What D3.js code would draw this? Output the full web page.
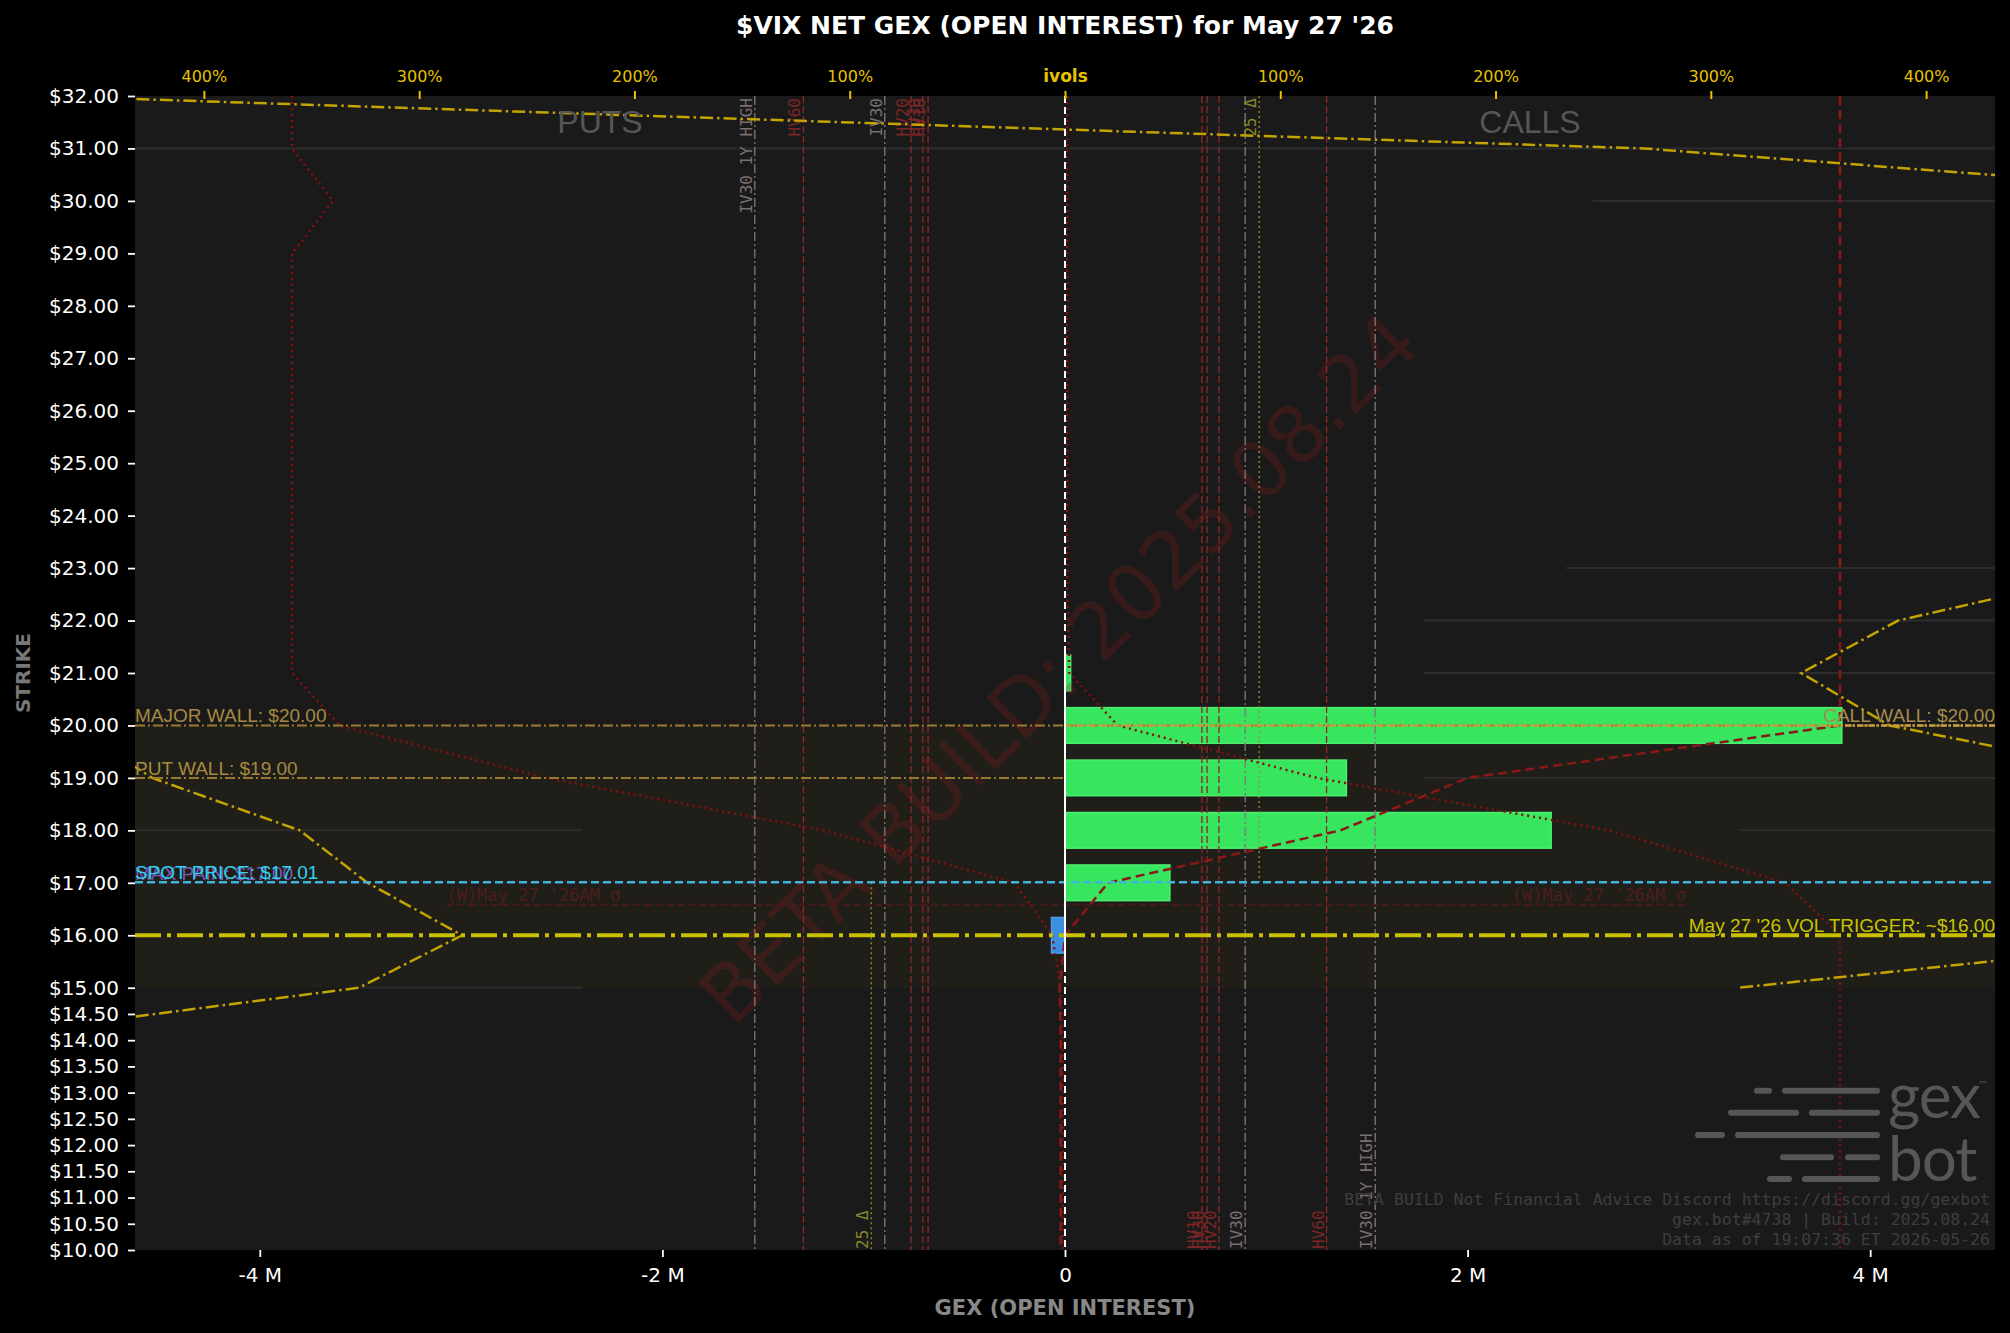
<!DOCTYPE html>
<html><head><meta charset="utf-8">
<script src="https://cdn.jsdelivr.net/npm/d3@7"></script>
<style>
html,body{margin:0;padding:0;background:#000;}
svg{display:block;}
</style></head><body>
<svg id="chart" width="2010" height="1333"></svg>
<script>
// ---------------- DATA ----------------
const titleText = "$VIX NET GEX (OPEN INTEREST) for May 27 '26";
const strikeTicks = [32,31,30,29,28,27,26,25,24,23,22,21,20,19,18,17,16,15,14.5,14,13.5,13,12.5,12,11.5,11,10.5,10];
const gexTicks = [-4e6,-2e6,0,2e6,4e6];
const ivolTicks = [-400,-300,-200,-100,0,100,200,300,400];

// net GEX bars by strike
const barStrikes = [21,20,19,18,17,16];
const barGex = [0.028e6, 3.859e6, 1.398e6, 2.415e6, 0.521e6, -0.067e6];

// volatility reference levels (ivol %), mirrored on both sides
const volNames  = ["HV10","HV30","HV20","IV30","HV60","IV30 1Y HIGH"];
const volValues = [63.6, 66.0, 71.5, 83.7, 121.5, 144.1];
const deltaPut = -90.0, deltaCall = 90.2;

// IV curves by strike (ivol %)
const curveStrikes  = [32,31,30,29,28,27,26,25,24,23,22,21,20,19,18,17,16,15,14,13,12,11,10];
const putIvDotted   = [359,359,340,359,359,359,359,359,359,359,359,359,337,241,112,23.5,6,2,1,1,1,1,1];
const callIvDotted  = [1,1,1,1,1,1,1,1,1,1,1.5,2,24.5,117,253,334.5,360,360,360,360,360,360,360];
const callIvDashed  = [360,360,360,360,360,360,360,360,360,360,360,360,360,187,128,20,0,-2.5,-2,-2,-2,-2,-2];

// skew curves (signed ivol %, strike)
const topSkewIv = [-475, 269, 590];
const topSkewStrike = [32, 31, 30];
const putSkewStrike = [20,19,18,17,16,15,14];
const putSkewIv = [462,424,355.5,324,280,328,517];
const callSkewStrike = [23,22,21,20,19,18,17,16,15];
const callSkewIv = [494,387,342,383,505,600,600,546,313];

// faint reference segments (strike, from/to in GEX millions)
const refStrikes = [31,30,23,22,21,19,18,18,15];
const refFrom = [-4.62,2.62,2.49,1.78,1.78,1.78,-4.62,3.35,-3.50];
const refTo   = [4.62,4.62,4.62,4.62,4.62,4.62,-2.40,4.62,-2.40];

// levels
const majorWall = 20.00, putWall = 19.00, callWall = 20.00;
const spotPrice = 17.01, maxPain = 17.00, volTrigger = 16.00;
const sigmaStrike = 16.58, sigmaFrom = -3.073e6, sigmaTo = 3.084e6;
const bandLow = 15, bandHigh = 20;

const footerLines = ["BETA BUILD Not Financial Advice Discord https://discord.gg/gexbot",
                     "gex.bot#4738 | Build: 2025.08.24",
                     "Data as of 19:07:36 ET 2026-05-26"];

// ---------------- CHART ----------------
const W=2010,H=1333;
const M={l:135,r:15,t:96,b:83};
const svg=d3.select('#chart');
const x=d3.scaleLinear().domain([-4.62e6,4.62e6]).range([M.l,W-M.r]);
const xi=d3.scaleLinear().domain([-432,432]).range([M.l,W-M.r]);
const y=d3.scaleLinear().domain([10,32]).range([H-M.b,M.t]);

svg.append('rect').attr('width',W).attr('height',H).attr('fill','#000');
svg.append('defs').append('clipPath').attr('id','clip').append('rect')
  .attr('x',M.l).attr('y',M.t).attr('width',W-M.l-M.r).attr('height',H-M.t-M.b);
svg.append('rect').attr('x',M.l).attr('y',M.t).attr('width',W-M.l-M.r).attr('height',H-M.t-M.b).attr('fill','#1a1a1a');

const g=svg.append('g').attr('clip-path','url(#clip)');

// band
g.append('rect').attr('x',M.l).attr('width',W-M.l-M.r)
  .attr('y',y(bandHigh)).attr('height',y(bandLow)-y(bandHigh)).attr('fill','#201e18');

// faint reference segments
refStrikes.forEach((s,i)=>{
  g.append('line').attr('x1',x(refFrom[i]*1e6)).attr('x2',x(refTo[i]*1e6))
   .attr('y1',y(s)).attr('y2',y(s)).attr('stroke','#2c2c2c').attr('stroke-width',2);
});

// bars
const bh = y(0)-y(0.68);
barStrikes.forEach((s,i)=>{
  const v=barGex[i];
  g.append('rect').attr('x',Math.min(x(0),x(v))).attr('width',Math.abs(x(v)-x(0)))
   .attr('y',y(s)-bh/2).attr('height',bh)
   .attr('fill',v>=0?'#38e55e':'#3b8fe0')
   .attr('stroke',v>=0?'#4cf070':'#4a9cf0').attr('stroke-width',1.5);
});

// watermark
g.append('text').attr('transform',`translate(${x(0)-2},${y(21.0)}) rotate(-44.6)`)
 .attr('text-anchor','middle').attr('dominant-baseline','middle')
 .attr('font-family','DejaVu Sans').attr('font-size',79)
 .attr('fill','rgb(139,30,30)').attr('fill-opacity',0.26)
 .text('BETA BUILD: 2025.08.24');

// vertical vol lines
function vline(v, color, dash, y1, y2, w){
  g.append('line').attr('x1',xi(v)).attr('x2',xi(v)).attr('y1',y1).attr('y2',y2)
   .attr('stroke',color).attr('stroke-width',w||1.3).attr('stroke-dasharray',dash);
}
function vlabel(v, txt, color, atTop){
  const t=g.append('text').attr('font-family','DejaVu Sans Mono').attr('font-size',16).attr('fill',color).text(txt);
  if(atTop) t.attr('transform',`translate(${xi(v)-3},${M.t+2}) rotate(-90)`).attr('text-anchor','end');
  else t.attr('transform',`translate(${xi(v)-3},${H-M.b-1}) rotate(-90)`).attr('text-anchor','start');
}
volNames.forEach((n,i)=>{
  const hv=n.startsWith('HV');
  const lc=hv?'#8c2828':'#82777a', tc=hv?'#7a2626':'#7a6f6f';
  const dash=hv?'7,3':'9,3,2,3';
  vline(-volValues[i],lc,dash,M.t,H-M.b);
  vline(volValues[i],lc,dash,M.t,H-M.b);
  vlabel(-volValues[i],n,tc,true);
  vlabel(volValues[i],n,tc,false);
});
vline(deltaPut,'#949422','2,3',y(spotPrice),H-M.b);
vline(deltaCall,'#949422','2,3',M.t,y(spotPrice));
vlabel(deltaPut,'25 Δ','#86862a',false);
vlabel(deltaCall,'25 Δ','#86862a',true);

// red IV curves
const redLine=(vals,sign)=>d3.line().x((d,i)=>xi(sign*vals[i])).y((d,i)=>y(curveStrikes[i]))(curveStrikes);
g.append('path').attr('d',redLine(putIvDotted,-1)).attr('fill','none').attr('stroke','#861010').attr('stroke-width',2.5).attr('stroke-dasharray','2,4');
g.append('path').attr('d',redLine(callIvDotted,1)).attr('fill','none').attr('stroke','#861010').attr('stroke-width',2.5).attr('stroke-dasharray','2,4');
g.append('path').attr('d',redLine(callIvDashed,1)).attr('fill','none').attr('stroke','#8a1818').attr('stroke-width',2.5).attr('stroke-dasharray','9,5');

// yellow skew curves
function skew(ivs, strikes, sign){
  g.append('path').attr('d',d3.line().x((d,i)=>xi(sign*ivs[i])).y((d,i)=>y(strikes[i]))(strikes))
   .attr('fill','none').attr('stroke','#c4a400').attr('stroke-width',2.5).attr('stroke-dasharray','13,4,2.5,4');
}
skew(topSkewIv, topSkewStrike, 1);
skew(putSkewIv, putSkewStrike, -1);
skew(callSkewIv, callSkewStrike, 1);

// sigma line
g.append('line').attr('x1',x(sigmaFrom)).attr('x2',x(sigmaTo)).attr('y1',y(sigmaStrike)).attr('y2',y(sigmaStrike))
 .attr('stroke','#4a1a1a').attr('stroke-width',2).attr('stroke-dasharray','7,4');
g.append('text').attr('x',x(sigmaFrom)).attr('y',y(sigmaStrike)-4).attr('font-family','DejaVu Sans Mono').attr('font-size',17).attr('fill','#4e1d1d').text("(W)May 27 '26AM σ");
g.append('text').attr('x',x(sigmaTo)).attr('y',y(sigmaStrike)-4).attr('text-anchor','end').attr('font-family','DejaVu Sans Mono').attr('font-size',17).attr('fill','#4e1d1d').text("(W)May 27 '26AM σ");

// wall lines
function hline(v, x1, x2, color, w, dash){
  g.append('line').attr('x1',x1).attr('x2',x2).attr('y1',y(v)).attr('y2',y(v))
   .attr('stroke',color).attr('stroke-width',w).attr('stroke-dasharray',dash);
}
hline(majorWall, M.l, W-M.r, '#9a7a30', 2, '10,3,2,3');
hline(putWall, M.l, x(0), '#9a7a30', 2, '10,3,2,3');
hline(callWall, x(0), W-M.r, '#c89c40', 2.5, '6,2,2,2');
hline(spotPrice, M.l, W-M.r, '#40b4dc', 2.5, '8,4');
hline(volTrigger, M.l, W-M.r, '#c8c000', 4, '26,6,4,6');

// zero line
g.append('line').attr('x1',x(0)).attr('x2',x(0)).attr('y1',M.t).attr('y2',H-M.b).attr('stroke','#fff').attr('stroke-width',2).attr('stroke-dasharray','7,4');
g.append('line').attr('x1',x(0)).attr('x2',x(0)).attr('y1',y(21.5)).attr('y2',y(15.35)).attr('stroke','#fff').attr('stroke-width',2);

// level labels
const lab=(tx,ty,txt,color,anchor)=>svg.append('text').attr('x',tx).attr('y',ty).attr('text-anchor',anchor||'start')
  .attr('font-family','Liberation Sans, Arial, sans-serif').attr('font-size',19).attr('fill',color).text(txt);
lab(M.l, y(majorWall)-3, 'MAJOR WALL: $20.00', '#a68a40');
lab(M.l, y(putWall)-3, 'PUT WALL: $19.00', '#a68a40');
lab(W-M.r, y(callWall)-3, 'CALL WALL: $20.00', '#a88c4c', 'end');
lab(M.l, y(maxPain)-3, 'MAX PAIN: $17.00', '#7a58b8');
lab(M.l, y(spotPrice)-3, 'SPOT PRICE: $17.01', '#2ed4f0');
lab(W-M.r, y(volTrigger)-3, "May 27 '26 VOL TRIGGER: ~$16.00", '#c8c400', 'end');

// PUTS / CALLS
svg.append('text').attr('x',600).attr('y',133).attr('text-anchor','middle').attr('font-family','Liberation Sans, Arial, sans-serif').attr('font-size',32).attr('fill','#565656').text('PUTS');
svg.append('text').attr('x',1530).attr('y',133).attr('text-anchor','middle').attr('font-family','Liberation Sans, Arial, sans-serif').attr('font-size',32).attr('fill','#565656').text('CALLS');

// logo
const logo=svg.append('g').attr('stroke','#565656').attr('stroke-width',6).attr('stroke-linecap','round');
const logoRows=[[1090.7,[[1757,1769],[1785,1877]]],[1112.7,[[1731,1796],[1812,1877]]],[1135,[[1698,1722],[1738,1877]]],[1157.3,[[1783,1831],[1848,1877]]],[1179,[[1770,1789],[1805,1877]]]];
logoRows.forEach(([ly,segs])=>segs.forEach(([a,b])=>logo.append('line').attr('x1',a).attr('x2',b).attr('y1',ly).attr('y2',ly)));
svg.append('text').attr('x',1888).attr('y',1118).attr('font-family','Lato, Open Sans, sans-serif').attr('font-size',62).attr('fill','#565656').attr('letter-spacing',-1).text('gex');
svg.append('text').attr('x',1888).attr('y',1181).attr('font-family','Lato, Open Sans, sans-serif').attr('font-size',62).attr('fill','#565656').attr('letter-spacing',-1).text('bot');
svg.append('text').attr('x',1978).attr('y',1088).attr('font-family','DejaVu Sans').attr('font-size',10).attr('fill','#565656').text('™');

// footer
footerLines.forEach((t,i)=>svg.append('text').attr('x',1990).attr('y',1205+i*20).attr('text-anchor','end')
  .attr('font-family','DejaVu Sans Mono').attr('font-size',16.5).attr('fill','#3e3e3e').text(t));

// axes
const yAx=svg.append('g').attr('transform',`translate(${M.l},0)`)
  .call(d3.axisLeft(y).tickValues(strikeTicks).tickFormat(d=>'$'+d.toFixed(2)).tickSize(7).tickPadding(9));
const xAx=svg.append('g').attr('transform',`translate(0,${H-M.b})`)
  .call(d3.axisBottom(x).tickValues(gexTicks).tickFormat(d=>d===0?'0':(d/1e6)+' M').tickSize(7).tickPadding(11));
const tAx=svg.append('g').attr('transform',`translate(0,${M.t+3})`)
  .call(d3.axisTop(xi).tickValues(ivolTicks).tickFormat(d=>d===0?'ivols':Math.abs(d)+'%').tickSize(8).tickPadding(9));
[yAx,xAx].forEach(a=>{a.select('.domain').remove();a.selectAll('line').attr('stroke','#fff').attr('stroke-width',1.8);
  a.selectAll('text').attr('fill','#fff').attr('font-family','DejaVu Sans').attr('font-size',20);});
tAx.select('.domain').remove();
tAx.selectAll('line').attr('stroke','#e6c200').attr('stroke-width',2);
tAx.selectAll('text').attr('fill','#e6c200').attr('font-family','DejaVu Sans')
  .attr('font-weight',d=>d===0?'bold':'normal').attr('font-size',d=>d===0?17:16);

// title & axis labels
svg.append('text').attr('x',1065).attr('y',34).attr('text-anchor','middle').attr('font-family','DejaVu Sans').attr('font-weight','bold').attr('font-size',25).attr('fill','#fff').text(titleText);
svg.append('text').attr('x',1065).attr('y',1315).attr('text-anchor','middle').attr('font-family','DejaVu Sans').attr('font-weight','bold').attr('font-size',21).attr('fill','#888').text('GEX (OPEN INTEREST)');
svg.append('text').attr('transform',`translate(30,${(M.t+H-M.b)/2}) rotate(-90)`).attr('text-anchor','middle').attr('font-family','DejaVu Sans').attr('font-weight','bold').attr('font-size',20).attr('fill','#777').text('STRIKE');
</script>
</body></html>
